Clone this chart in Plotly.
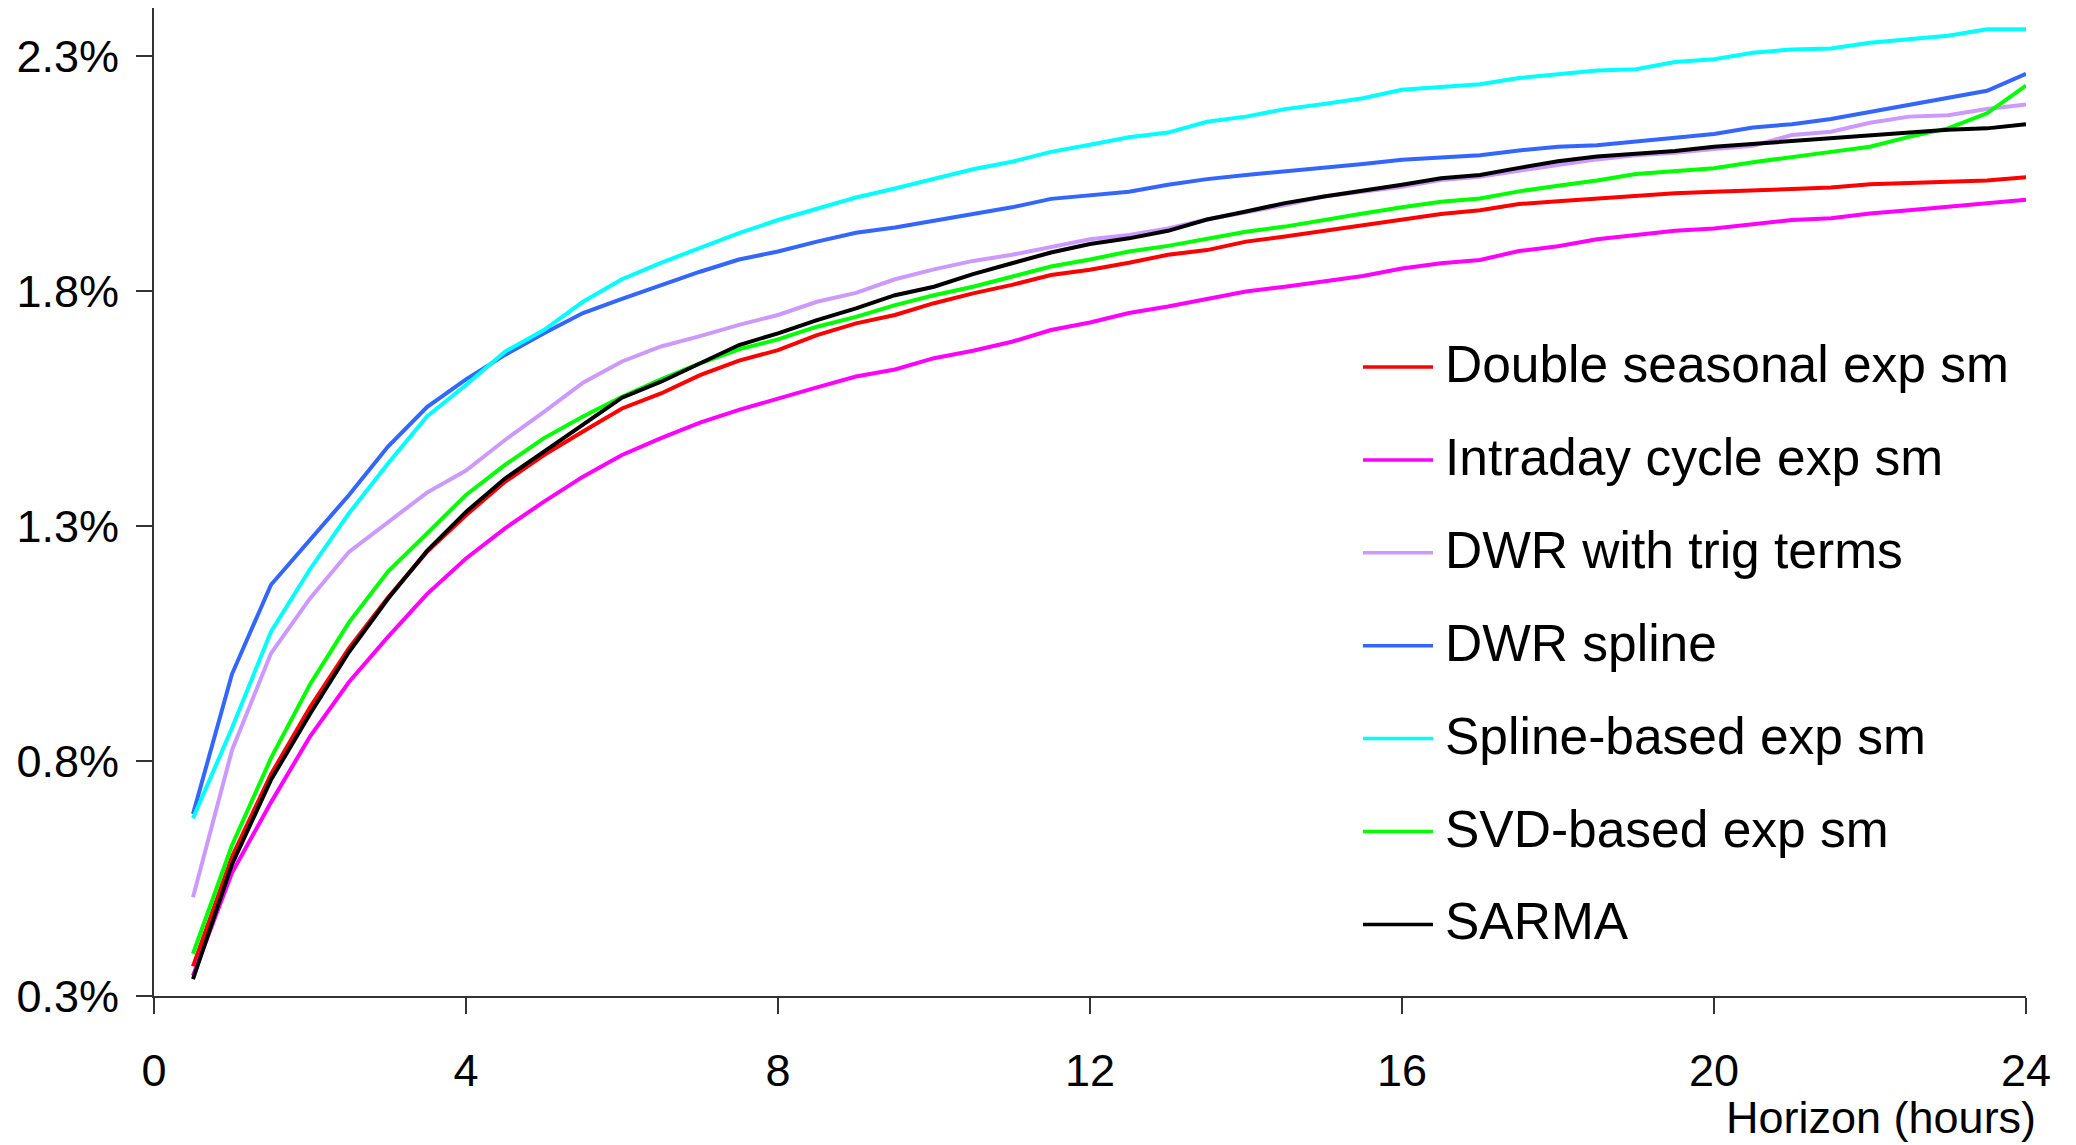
import plotly.graph_objects as go

hours = [0.5 * i for i in range(1, 49)]

series_names = ["Double seasonal exp sm", "Intraday cycle exp sm", "DWR with trig terms",
                "DWR spline", "Spline-based exp sm", "SVD-based exp sm", "SARMA"]
series_colors = ["#FF0000", "#FF00FF", "#CC99FF", "#3366FF", "#00FFFF", "#00FF00", "#000000"]

double_seasonal = [0.363, 0.596, 0.772, 0.914, 1.040, 1.148, 1.245, 1.323, 1.394, 1.451, 1.501, 1.550,
                   1.582, 1.621, 1.652, 1.674, 1.706, 1.731, 1.749, 1.774, 1.795, 1.813, 1.834, 1.845,
                   1.860, 1.877, 1.887, 1.905, 1.916, 1.928, 1.940, 1.952, 1.964, 1.972, 1.985, 1.991,
                   1.997, 2.001, 2.008, 2.011, 2.015, 2.017, 2.020, 2.027, 2.030, 2.033, 2.035, 2.042]
intraday = [0.343, 0.562, 0.712, 0.852, 0.968, 1.064, 1.155, 1.231, 1.295, 1.352, 1.405, 1.451,
            1.487, 1.520, 1.547, 1.572, 1.595, 1.618, 1.633, 1.657, 1.673, 1.692, 1.717, 1.733,
            1.753, 1.767, 1.782, 1.799, 1.809, 1.820, 1.832, 1.848, 1.859, 1.866, 1.885, 1.895,
            1.910, 1.919, 1.928, 1.933, 1.943, 1.951, 1.955, 1.965, 1.972, 1.979, 1.987, 1.994]
dwr_trig = [0.510, 0.823, 1.029, 1.146, 1.245, 1.309, 1.371, 1.418, 1.483, 1.543, 1.605, 1.650,
            1.682, 1.704, 1.728, 1.749, 1.777, 1.796, 1.825, 1.846, 1.864, 1.877, 1.894, 1.910,
            1.919, 1.933, 1.952, 1.967, 1.983, 2.001, 2.011, 2.022, 2.036, 2.043, 2.056, 2.068,
            2.080, 2.089, 2.094, 2.102, 2.109, 2.132, 2.139, 2.158, 2.171, 2.174, 2.187, 2.197]
dwr_spline = [0.687, 0.985, 1.175, 1.272, 1.366, 1.469, 1.553, 1.612, 1.664, 1.710, 1.753, 1.783,
              1.813, 1.841, 1.867, 1.884, 1.905, 1.924, 1.935, 1.950, 1.965, 1.978, 1.996, 2.004,
              2.011, 2.026, 2.038, 2.047, 2.054, 2.061, 2.070, 2.079, 2.084, 2.089, 2.099, 2.107,
              2.110, 2.118, 2.127, 2.134, 2.148, 2.155, 2.166, 2.181, 2.198, 2.212, 2.226, 2.262]
spline_exp = [0.678, 0.870, 1.075, 1.208, 1.327, 1.433, 1.533, 1.600, 1.671, 1.717, 1.777, 1.825,
              1.860, 1.891, 1.923, 1.951, 1.976, 1.999, 2.018, 2.038, 2.059, 2.075, 2.096, 2.111,
              2.127, 2.137, 2.160, 2.171, 2.187, 2.198, 2.210, 2.228, 2.235, 2.240, 2.253, 2.262,
              2.269, 2.272, 2.287, 2.293, 2.307, 2.314, 2.316, 2.328, 2.336, 2.343, 2.357, 2.357]
svd_exp = [0.390, 0.621, 0.806, 0.963, 1.095, 1.203, 1.284, 1.366, 1.430, 1.487, 1.533, 1.575,
           1.612, 1.646, 1.676, 1.697, 1.724, 1.745, 1.770, 1.791, 1.809, 1.830, 1.852, 1.867,
           1.884, 1.896, 1.912, 1.926, 1.937, 1.952, 1.965, 1.978, 1.990, 1.997, 2.012, 2.024,
           2.035, 2.049, 2.055, 2.061, 2.074, 2.086, 2.096, 2.107, 2.128, 2.146, 2.178, 2.237]
sarma = [0.336, 0.580, 0.760, 0.900, 1.032, 1.145, 1.247, 1.330, 1.401, 1.458, 1.515, 1.573,
         1.607, 1.646, 1.685, 1.710, 1.738, 1.763, 1.791, 1.809, 1.836, 1.859, 1.882, 1.900,
         1.912, 1.928, 1.952, 1.969, 1.987, 2.001, 2.013, 2.026, 2.040, 2.047, 2.062, 2.076,
         2.086, 2.091, 2.098, 2.107, 2.113, 2.121, 2.127, 2.132, 2.137, 2.143, 2.146, 2.155]

all_series = [double_seasonal, intraday, dwr_trig, dwr_spline, spline_exp, svd_exp, sarma]

y_tick_vals = [0.3, 0.8, 1.3, 1.8, 2.3]
y_tick_text = ["0.3%", "0.8%", "1.3%", "1.8%", "2.3%"]
x_tick_vals = [0, 4, 8, 12, 16, 20, 24]
x_title = "Horizon (hours)"

FONT = "Liberation Sans, Arial, sans-serif"
W, H = 2076, 1145
ML, MR, MT, MB = 154, 50, 8, 149
PW, PH = W - ML - MR, H - MT - MB

fig = go.Figure()
for name, color, vals in zip(series_names, series_colors, all_series):
    fig.add_trace(go.Scatter(x=hours, y=vals, mode="lines", name=name,
                             line=dict(color=color, width=4), showlegend=False))

# manual legend
leg_y0 = 367
leg_dy = 92.9
shapes = []
annotations = []
for i, (name, color) in enumerate(zip(series_names, series_colors)):
    py = leg_y0 + i * leg_dy
    yp = (H - MB - py) / PH
    x0 = (1363 - ML) / PW
    x1 = (1433 - ML) / PW
    shapes.append(dict(type="line", xref="paper", yref="paper", x0=x0, x1=x1, y0=yp, y1=yp,
                       line=dict(color=color, width=3.5)))
    annotations.append(dict(text=name, xref="paper", yref="paper", x=(1443 - ML) / PW, y=yp,
                            xanchor="left", yanchor="middle", showarrow=False, yshift=3,
                            font=dict(family=FONT, size=51.5, color="#000000")))

annotations.append(dict(text=x_title, xref="paper", yref="paper", x=(2038 - ML) / PW, y=0,
                        xanchor="right", yanchor="middle", yshift=-121, showarrow=False,
                        font=dict(family=FONT, size=45, color="#000000")))

fig.update_layout(
    width=W, height=H,
    margin=dict(l=ML, r=MR, t=MT, b=MB, pad=0),
    paper_bgcolor="white", plot_bgcolor="white",
    font=dict(family=FONT, color="#000000"),
    shapes=shapes, annotations=annotations,
    showlegend=False,
)
fig.update_xaxes(range=[0, 24], tickvals=x_tick_vals, showgrid=False, zeroline=False,
                 showline=True, linecolor="#333333", linewidth=2, ticks="outside", ticklen=16,
                 tickwidth=2, tickcolor="#333333", tickfont=dict(family=FONT, size=45, color="#000000"),
                 ticklabelstandoff=18)
fig.update_yaxes(range=[0.3, 2.4021], tickvals=y_tick_vals, ticktext=y_tick_text, showgrid=False,
                 zeroline=False, showline=True, linecolor="#333333", linewidth=2, ticks="outside",
                 ticklen=16, tickwidth=2, tickcolor="#333333",
                 tickfont=dict(family=FONT, size=45, color="#000000"), ticklabelstandoff=8)

fig.write_html("out.html")
